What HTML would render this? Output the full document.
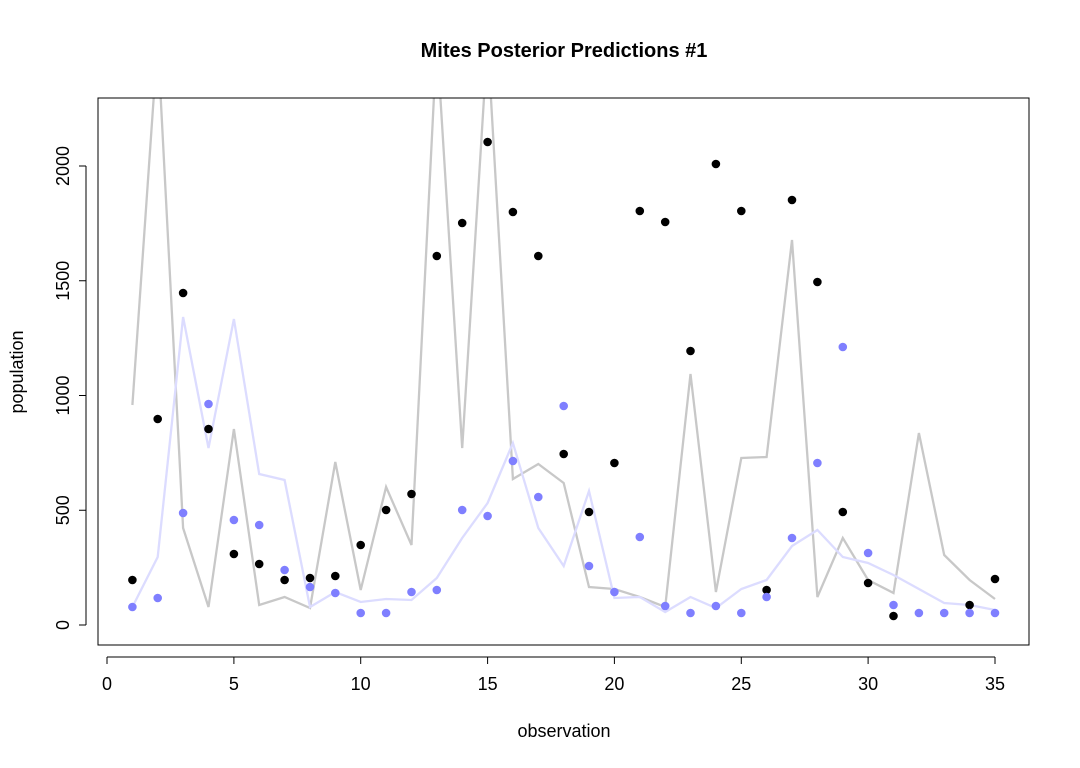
<!DOCTYPE html>
<html><head><meta charset="utf-8"><style>body{margin:0;background:#fff}svg{display:block}text{font-family:"Liberation Sans",sans-serif;fill:#000}</style></head>
<body>
<svg width="1080" height="768" viewBox="0 0 1080 768" xmlns="http://www.w3.org/2000/svg">
<defs><clipPath id="c"><rect x="98" y="98" width="931" height="547"/></clipPath></defs>
<rect width="1080" height="768" fill="#fff"/>
<text x="564" y="57" font-size="20" font-weight="bold" text-anchor="middle">Mites Posterior Predictions #1</text>
<g clip-path="url(#c)" fill="none" stroke-width="2.3">
<polyline stroke="#c8c8c8" points="132.4,405 157.7,40 183.1,528 208.5,607 233.9,429 259.2,605 284.6,597 310,608 335.3,462 360.7,590 386.1,487 411.5,545 436.8,40 462.2,448 487.6,40 512.9,479 538.3,464 563.7,483 589,587 614.4,589 639.8,597 665.2,607 690.5,374 715.9,592 741.3,458 766.6,457 792,240 817.4,597 842.8,538 868.1,580 893.5,593 918.9,433 944.2,555 969.6,580 995,599"/>
<polyline stroke="#dcdcff" points="132.4,607 157.7,557 183.1,317 208.5,448 233.9,319 259.2,474 284.6,480 310,607 335.3,592 360.7,602 386.1,599 411.5,600 436.8,578 462.2,538 487.6,503 512.9,443 538.3,528 563.7,566 589,491 614.4,598 639.8,597 665.2,612 690.5,597 715.9,608 741.3,589 766.6,580 792,546 817.4,530 842.8,557 868.1,563 893.5,575 918.9,589 944.2,603 969.6,605 995,610"/>
</g>
<g fill="#000">
<circle cx="132.4" cy="580" r="4.3"/><circle cx="157.7" cy="419" r="4.3"/><circle cx="183.1" cy="293" r="4.3"/><circle cx="208.5" cy="429" r="4.3"/><circle cx="233.9" cy="554" r="4.3"/><circle cx="259.2" cy="564" r="4.3"/><circle cx="284.6" cy="580" r="4.3"/><circle cx="310" cy="578" r="4.3"/><circle cx="335.3" cy="576" r="4.3"/><circle cx="360.7" cy="545" r="4.3"/><circle cx="386.1" cy="510" r="4.3"/><circle cx="411.5" cy="494" r="4.3"/><circle cx="436.8" cy="256" r="4.3"/><circle cx="462.2" cy="223" r="4.3"/><circle cx="487.6" cy="142" r="4.3"/><circle cx="512.9" cy="212" r="4.3"/><circle cx="538.3" cy="256" r="4.3"/><circle cx="563.7" cy="454" r="4.3"/><circle cx="589" cy="512" r="4.3"/><circle cx="614.4" cy="463" r="4.3"/><circle cx="639.8" cy="211" r="4.3"/><circle cx="665.2" cy="222" r="4.3"/><circle cx="690.5" cy="351" r="4.3"/><circle cx="715.9" cy="164" r="4.3"/><circle cx="741.3" cy="211" r="4.3"/><circle cx="766.6" cy="590" r="4.3"/><circle cx="792" cy="200" r="4.3"/><circle cx="817.4" cy="282" r="4.3"/><circle cx="842.8" cy="512" r="4.3"/><circle cx="868.1" cy="583" r="4.3"/><circle cx="893.5" cy="616" r="4.3"/><circle cx="969.6" cy="605" r="4.3"/><circle cx="995" cy="579" r="4.3"/>
</g>
<g fill="#7f7fff">
<circle cx="132.4" cy="607" r="4.3"/><circle cx="157.7" cy="598" r="4.3"/><circle cx="183.1" cy="513" r="4.3"/><circle cx="208.5" cy="404" r="4.3"/><circle cx="233.9" cy="520" r="4.3"/><circle cx="259.2" cy="525" r="4.3"/><circle cx="284.6" cy="570" r="4.3"/><circle cx="310" cy="587" r="4.3"/><circle cx="335.3" cy="593" r="4.3"/><circle cx="360.7" cy="613" r="4.3"/><circle cx="386.1" cy="613" r="4.3"/><circle cx="411.5" cy="592" r="4.3"/><circle cx="436.8" cy="590" r="4.3"/><circle cx="462.2" cy="510" r="4.3"/><circle cx="487.6" cy="516" r="4.3"/><circle cx="512.9" cy="461" r="4.3"/><circle cx="538.3" cy="497" r="4.3"/><circle cx="563.7" cy="406" r="4.3"/><circle cx="589" cy="566" r="4.3"/><circle cx="614.4" cy="592" r="4.3"/><circle cx="639.8" cy="537" r="4.3"/><circle cx="665.2" cy="606" r="4.3"/><circle cx="690.5" cy="613" r="4.3"/><circle cx="715.9" cy="606" r="4.3"/><circle cx="741.3" cy="613" r="4.3"/><circle cx="766.6" cy="597" r="4.3"/><circle cx="792" cy="538" r="4.3"/><circle cx="817.4" cy="463" r="4.3"/><circle cx="842.8" cy="347" r="4.3"/><circle cx="868.1" cy="553" r="4.3"/><circle cx="893.5" cy="605" r="4.3"/><circle cx="918.9" cy="613" r="4.3"/><circle cx="944.2" cy="613" r="4.3"/><circle cx="969.6" cy="613" r="4.3"/><circle cx="995" cy="613" r="4.3"/>
</g>
<rect x="98" y="98" width="931" height="547" fill="none" stroke="#000" stroke-width="1"/>
<g stroke="#000" stroke-width="1">
<line x1="107" y1="657" x2="995" y2="657"/>
<line x1="107" y1="657" x2="107" y2="664"/><line x1="233.9" y1="657" x2="233.9" y2="664"/><line x1="360.7" y1="657" x2="360.7" y2="664"/><line x1="487.6" y1="657" x2="487.6" y2="664"/><line x1="614.4" y1="657" x2="614.4" y2="664"/><line x1="741.3" y1="657" x2="741.3" y2="664"/><line x1="868.1" y1="657" x2="868.1" y2="664"/><line x1="995" y1="657" x2="995" y2="664"/>
<line x1="86" y1="625" x2="86" y2="166"/>
<line x1="79" y1="625" x2="86" y2="625"/><line x1="79" y1="510.25" x2="86" y2="510.25"/><line x1="79" y1="395.5" x2="86" y2="395.5"/><line x1="79" y1="280.75" x2="86" y2="280.75"/><line x1="79" y1="166" x2="86" y2="166"/>
</g>
<g font-size="18" text-anchor="middle">
<text x="107" y="690">0</text><text x="233.9" y="690">5</text><text x="360.7" y="690">10</text><text x="487.6" y="690">15</text><text x="614.4" y="690">20</text><text x="741.3" y="690">25</text><text x="868.1" y="690">30</text><text x="995" y="690">35</text>
<text transform="translate(69,625) rotate(-90)">0</text>
<text transform="translate(69,510.25) rotate(-90)">500</text>
<text transform="translate(69,395.5) rotate(-90)">1000</text>
<text transform="translate(69,280.75) rotate(-90)">1500</text>
<text transform="translate(69,166) rotate(-90)">2000</text>
</g>
<text x="564" y="737" font-size="18" text-anchor="middle">observation</text>
<text transform="translate(23,372) rotate(-90)" font-size="18" text-anchor="middle">population</text>
</svg>
</body></html>
